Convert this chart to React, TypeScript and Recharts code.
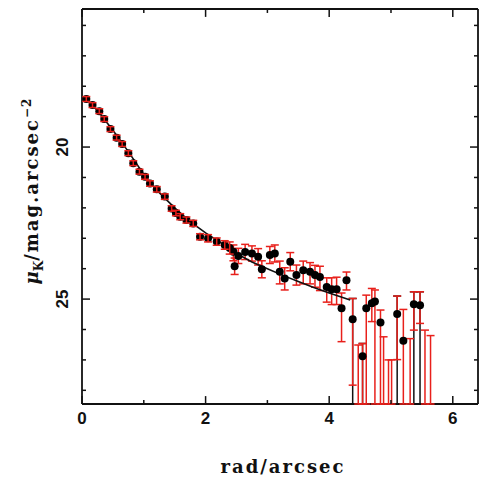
import { ScatterChart, Scatter, XAxis, YAxis, ErrorBar } from "recharts";

// ─── Surface-brightness profile (K band) ─────────────────
// radius in arcsec, mu in mag/arcsec^2 (points below the frame are off-scale)
const radius = [
  0.07, 0.17, 0.28, 0.36, 0.46, 0.56, 0.65, 0.75, 0.83, 0.93, 1.02, 1.1, 1.21,
  1.34, 1.45, 1.52, 1.59, 1.69, 1.8, 1.91, 2.04, 2.18, 2.31, 2.39, 2.45, 2.47,
  2.53, 2.64, 2.75, 2.85, 2.91, 3.04, 3.12, 3.2, 3.28, 3.37, 3.47, 3.58, 3.69,
  3.77, 3.85, 3.96, 4.04, 4.12, 4.2, 4.28, 4.38, 4.47, 4.54, 4.6, 4.69, 4.74,
  4.83, 4.88, 4.96, 5.01, 5.1, 5.2, 5.31, 5.37, 5.47, 5.55, 5.64,
];
const mu = [
  18.42, 18.62, 18.82, 19.08, 19.41, 19.69, 19.9, 20.2, 20.53, 20.81, 20.98,
  21.2, 21.39, 21.63, 22.02, 22.17, 22.29, 22.4, 22.51, 22.95, 23.0, 23.11,
  23.22, 23.32, 23.44, 23.92, 23.58, 23.45, 23.5, 23.61, 24.02, 23.55, 23.5,
  24.1, 24.32, 23.77, 24.21, 24.05, 24.1, 24.21, 24.27, 24.6, 24.68, 24.68,
  25.3, 24.38, 25.66, 29.0, 26.88, 25.3, 25.14, 25.08, 25.77, 29.0, 29.0, 29.0,
  25.49, 26.37, 29.0, 25.17, 25.2, 29.0, 29.0,
];
// error towards brighter (up) and fainter (down) values
const errBright = [
  0.08, 0.08, 0.08, 0.08, 0.08, 0.08, 0.08, 0.08, 0.08, 0.08, 0.08, 0.09, 0.09,
  0.09, 0.09, 0.09, 0.1, 0.1, 0.1, 0.1, 0.12, 0.12, 0.14, 0.2, 0.22, 0.27,
  0.25, 0.25, 0.25, 0.27, 0.28, 0.28, 0.28, 0.35, 0.35, 0.3, 0.33, 0.3, 0.3,
  0.32, 0.35, 0.3, 0.38, 0.4, 0.5, 0.27, 0.68, 2.49, 0.42, 0.43, 0.49, 0.38,
  0.41, 2.76, 2.0, 2.0, 0.59, 1.03, 2.7, 0.41, 0.44, 2.98, 2.8,
];
const errFaint = [
  0.08, 0.08, 0.08, 0.08, 0.08, 0.08, 0.08, 0.08, 0.08, 0.08, 0.08, 0.09, 0.09,
  0.09, 0.09, 0.09, 0.1, 0.1, 0.1, 0.1, 0.12, 0.12, 0.14, 0.2, 0.3, 0.27, 0.25,
  0.25, 0.25, 0.27, 0.28, 0.28, 0.28, 0.4, 0.38, 0.3, 0.33, 0.45, 0.4, 0.4,
  0.45, 0.5, 0.5, 0.5, 1.1, 0.32, 2.17, 1.0, 3.0, 4.0, 0.6, 4.0, 4.0, 1.0, 1.0,
  1.0, 1.5, 3.0, 1.0, 0.85, 0.6, 1.0, 1.0,
];
// extra (black) faint-side error, 0 where none
const errSystem = [
  0, 0, 0, 0, 0, 0, 0, 0, 0, 0, 0, 0, 0, 0, 0, 0, 0, 0, 0, 0, 0, 0, 0, 0, 0, 0,
  0, 0, 0, 0, 0, 0, 0, 0, 0, 0, 0, 0, 0, 0, 0, 0, 0, 0, 0, 0, 4.0, 0, 4.0, 0,
  0, 0, 0, 0, 0, 0, 4.0, 0, 0, 4.0, 4.0, 0, 0,
];

// ─── Model fit ───────────────────────────────────────────
const modelRadius = [
  0.05, 0.25, 0.5, 0.75, 1.0, 1.25, 1.5, 1.75, 2.0, 2.25, 2.5, 2.75, 3.0, 3.25,
  3.5, 3.75, 4.0, 4.34,
];
const modelMu = [
  18.38, 18.8, 19.45, 20.15, 20.9, 21.5, 22.0, 22.45, 22.82, 23.15, 23.5, 23.78,
  24.0, 24.22, 24.42, 24.62, 24.8, 25.03,
];

const X_TICKS = [0, 1, 2, 3, 4, 5, 6];
const X_LABELS = [0, 2, 4, 6];
const Y_TICKS = [16, 17, 18, 19, 20, 21, 22, 23, 24, 25, 26, 27, 28];
const Y_LABELS = [20, 25];
const X_DOMAIN: [number, number] = [0, 6.408];
const Y_DOMAIN: [number, number] = [15.46, 28.45];

const RED = "#e8201b";
const INK = "#111";
const INNER_LIMIT = 2.4;

// bars that run off the frame stop at the frame
const toFrame = (m: number, e: number) => Math.min(m + e, Y_DOMAIN[1]) - m;

const rows = radius.map((r, i) => ({
  r,
  mu: mu[i],
  err: [errBright[i], toFrame(mu[i], errFaint[i])],
  sys: [errBright[i], toFrame(mu[i], errSystem[i])],
}));
const sysRows = rows.filter((_, i) => errSystem[i] > 0);
const innerRows = rows.filter((d) => d.r < INNER_LIMIT);
const outerRows = rows.filter((d) => d.r >= INNER_LIMIT);
const modelRows = modelRadius.map((r, i) => ({ r, mu: modelMu[i] }));

// ─── Frame & inward tick marks (drawn through the axis scales) ──
// tick lengths in axis units: ~8px major / ~4px minor
const TICK_Y = { major: 0.26, minor: 0.13 };
const TICK_X = { major: 0.13, minor: 0.065 };
const [X0, X1] = X_DOMAIN;
const [Y0, Y1] = Y_DOMAIN;

const tickRows = [
  ...X_TICKS.map((t) => {
    const l = X_LABELS.includes(t) ? TICK_Y.major : TICK_Y.minor;
    return [
      { r: t, mu: Y1, ex: [0, 0], ey: [l, 0] },
      { r: t, mu: Y0, ex: [0, 0], ey: [0, l] },
    ];
  }).flat(),
  ...Y_TICKS.map((t) => {
    const l = Y_LABELS.includes(t) ? TICK_X.major : TICK_X.minor;
    return [
      { r: X0, mu: t, ex: [0, l], ey: [0, 0] },
      { r: X1, mu: t, ex: [l, 0], ey: [0, 0] },
    ];
  }).flat(),
];
// top edge and right edge of the box
const frameRows = [{ r: X1, mu: Y0, ex: [X1 - X0, 0], ey: [0, Y1 - Y0] }];

// ─── Tick labels ─────────────────────────────────────────
function AxisLabel(props: any) {
  const { x, y, payload, side } = props;
  const v = payload.value;
  const major = side === "left" ? Y_LABELS.includes(v) : X_LABELS.includes(v);
  if (!major) return <g />;
  const labelStyle = {
    fontFamily: "'Liberation Sans', Arial, sans-serif",
    fontWeight: 700,
    fontSize: 17,
    fill: INK,
  };
  if (side === "bottom") {
    return (
      <text x={x} y={y + 14} textAnchor="middle" dominantBaseline="central" style={labelStyle}>
        {v}
      </text>
    );
  }
  return (
    <text
      x={x - 19}
      y={y}
      textAnchor="middle"
      dominantBaseline="central"
      transform={`rotate(-90 ${x - 19} ${y})`}
      style={labelStyle}
    >
      {v}
    </text>
  );
}

const dot = (p: any) => <circle cx={p.cx} cy={p.cy} r={4} fill="#000" />;
const none = () => <g />;

const axisLine = { stroke: INK, strokeWidth: 1.8 };

const titleStyle: React.CSSProperties = {
  position: "absolute",
  fontFamily: "'DejaVu Serif', serif",
  fontWeight: 700,
  fontSize: 18,
  letterSpacing: 2,
  color: INK,
  whiteSpace: "nowrap",
};

export default function App() {
  return (
    <div style={{ position: "absolute", left: 0, top: 0, width: 482, height: 481 }}>
      <ScatterChart width={482} height={481} margin={{ top: 9, right: 4, bottom: 0, left: 0 }}>
        <XAxis
          xAxisId="main"
          dataKey="r"
          type="number"
          domain={X_DOMAIN}
          allowDataOverflow
          ticks={X_TICKS}
          interval={0}
          height={77}
          tickSize={0}
          tickMargin={0}
          tickLine={false}
          axisLine={axisLine}
          tick={(p: any) => <AxisLabel {...p} side="bottom" />}
        />
        <YAxis
          yAxisId="main"
          dataKey="mu"
          type="number"
          domain={Y_DOMAIN}
          reversed
          allowDataOverflow
          ticks={Y_TICKS}
          interval={0}
          width={82}
          tickSize={0}
          tickMargin={0}
          tickLine={false}
          axisLine={axisLine}
          tick={(p: any) => <AxisLabel {...p} side="left" />}
        />

        {/* model fit */}
        <Scatter
          xAxisId="main"
          yAxisId="main"
          data={modelRows}
          line={{ stroke: INK, strokeWidth: 1.6 }}
          lineType="joint"
          shape={none}
          isAnimationActive={false}
        />
        {/* black (extra) error bars */}
        <Scatter xAxisId="main" yAxisId="main" data={sysRows} shape={none} isAnimationActive={false}>
          <ErrorBar dataKey="sys" direction="y" stroke={INK} strokeWidth={1.5} width={4} isAnimationActive={false} zIndex={550} />
        </Scatter>
        {/* outer red error bars below the points */}
        <Scatter xAxisId="main" yAxisId="main" data={outerRows} shape={none} isAnimationActive={false}>
          <ErrorBar dataKey="err" direction="y" stroke={RED} strokeWidth={1.5} width={4} isAnimationActive={false} zIndex={560} />
        </Scatter>
        {/* data points */}
        <Scatter xAxisId="main" yAxisId="main" data={rows} shape={dot} isAnimationActive={false} />
        {/* inner red error bars on top */}
        <Scatter xAxisId="main" yAxisId="main" data={innerRows} shape={none} isAnimationActive={false}>
          <ErrorBar dataKey="err" direction="y" stroke={RED} strokeWidth={1.5} width={4} isAnimationActive={false} zIndex={700} />
        </Scatter>

        {/* box edges (top, right) */}
        <Scatter xAxisId="main" yAxisId="main" data={frameRows} shape={none} isAnimationActive={false}>
          <ErrorBar dataKey="ex" direction="x" stroke={INK} strokeWidth={1.8} width={0} isAnimationActive={false} zIndex={800} />
          <ErrorBar dataKey="ey" direction="y" stroke={INK} strokeWidth={1.8} width={0} isAnimationActive={false} zIndex={800} />
        </Scatter>
        {/* inward tick marks on all four sides */}
        <Scatter xAxisId="main" yAxisId="main" data={tickRows} shape={none} isAnimationActive={false}>
          <ErrorBar dataKey="ex" direction="x" stroke={INK} strokeWidth={1.5} width={0} isAnimationActive={false} zIndex={800} />
          <ErrorBar dataKey="ey" direction="y" stroke={INK} strokeWidth={1.5} width={0} isAnimationActive={false} zIndex={800} />
        </Scatter>
      </ScatterChart>

      <div style={{ ...titleStyle, left: 283, top: 466, transform: "translate(-50%, -50%)" }}>
        rad/arcsec
      </div>
      <div
        style={{
          ...titleStyle,
          left: 33,
          top: 191,
          transform: "translate(-50%, -50%) rotate(-90deg)",
        }}
      >
        <span style={{ fontStyle: "italic", letterSpacing: 0 }}>μ</span>
        <sub style={{ fontSize: 12, letterSpacing: 0 }}>K</sub>/mag.arcsec
        <sup style={{ fontSize: 12, letterSpacing: 1 }}>−2</sup>
      </div>
    </div>
  );
}
